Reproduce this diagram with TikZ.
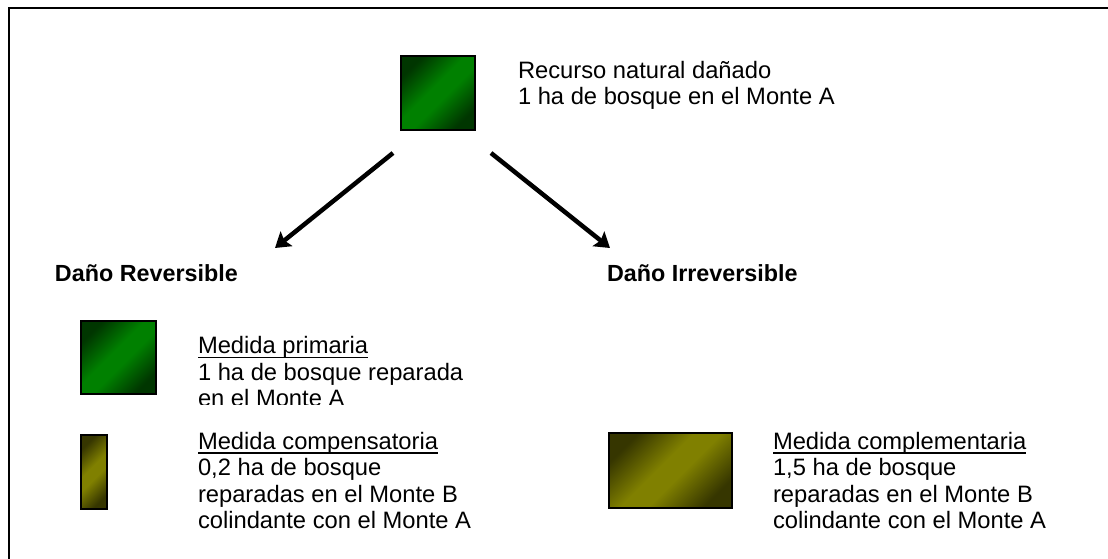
\documentclass[tikz,border=0pt]{standalone}
\usepackage{fontspec}
\setmainfont{Liberation Sans}
\usetikzlibrary{arrows.meta}
\definecolor{leafgreen}{HTML}{008000}
\definecolor{darkgreen}{HTML}{003600}
\definecolor{olivebright}{HTML}{808000}
\definecolor{olivedark}{HTML}{363600}
\pgfdeclareverticalshading{bosqueverde}{100bp}{color(0bp)=(darkgreen); color(25bp)=(darkgreen);
  color(45bp)=(leafgreen); color(55bp)=(leafgreen); color(75bp)=(darkgreen); color(100bp)=(darkgreen)}
\pgfdeclareverticalshading{bosqueoliva}{100bp}{color(0bp)=(olivedark); color(25bp)=(olivedark);
  color(45bp)=(olivebright); color(55bp)=(olivebright); color(75bp)=(olivedark); color(100bp)=(olivedark)}
\def\px{0.75pt}
\newsavebox\medbox
\newcommand\medida[1]{\sbox\medbox{#1}\rlap{\usebox\medbox}\rule[-3.4pt]{\wd\medbox}{1.2pt}}

\begin{document}
\begin{tikzpicture}[
    x=\px, y=-\px,
    every node/.style={inner sep=0pt, outer sep=0pt},
    bosque/.style={
      draw=black, line width=2*\px
    },
    greenbox/.style={
      bosque, shading=bosqueverde, shading angle=45
    },
    olivebox/.style={
      bosque, shading=bosqueoliva, shading angle=45
    },
    txt/.style={
      anchor=base west, align=left,
      font=\fontsize{17.8pt}{19.9pt}\selectfont
    },
    dano/.style={
      anchor=base west,
      font=\fontsize{17.5pt}{19pt}\selectfont\bfseries
    },
    arrowtip/.style={
      line width=4.5*\px, -{Stealth[length=11pt,width=14pt,inset=2pt]}
    }
  ]
    \useasboundingbox (0,0) rectangle (1108,559);
    \draw[line width=2*\px] (1108,8.5) -- (8.5,8.5) -- (8.5,559);

    % recurso dañado (base = last line)
    \node[greenbox, minimum width=74*\px, minimum height=74*\px] (Recurso) at (438,93) {};
    \node[txt] (RecursoTxt) at (518,105) {Recurso natural dañado\\1 ha de bosque en el Monte A};

    \coordinate (RevStart) at (393,153);
    \coordinate (RevTip) at (275,248);
    \coordinate (IrrStart) at (491,153);
    \coordinate (IrrTip) at (610,248);
    \draw[arrowtip] (RevStart) -- (RevTip);
    \draw[arrowtip] (IrrStart) -- (IrrTip);

    \node[dano] (Reversible) at (55,282) {Daño Reversible};
    \node[dano] (Irreversible) at (607,282) {Daño Irreversible};

    % medidas
    \node[greenbox, minimum width=75*\px, minimum height=73*\px] (Primaria) at (118.5,357.5) {};
    \begin{scope}
      \clip (190,320) rectangle (560,404.5);
      \node[txt] (PrimariaTxt) at (198,407) {\medida{Medida primaria}\\1 ha de bosque reparada\\en el Monte A};
    \end{scope}

    \node[olivebox, minimum width=26*\px, minimum height=74*\px] (Compens) at (94,472) {};
    \node[txt] (CompensTxt) at (198,529) {\medida{Medida compensatoria}\\0,2 ha de bosque\\reparadas en el Monte B\\colindante con el Monte A};

    \node[olivebox, minimum width=123*\px, minimum height=75*\px] (Complem) at (670.5,470.5) {};
    \node[txt] (ComplemTxt) at (773,529) {\medida{Medida complementaria}\\1,5 ha de bosque\\reparadas en el Monte B\\colindante con el Monte A};
  \end{tikzpicture}
\end{document}
